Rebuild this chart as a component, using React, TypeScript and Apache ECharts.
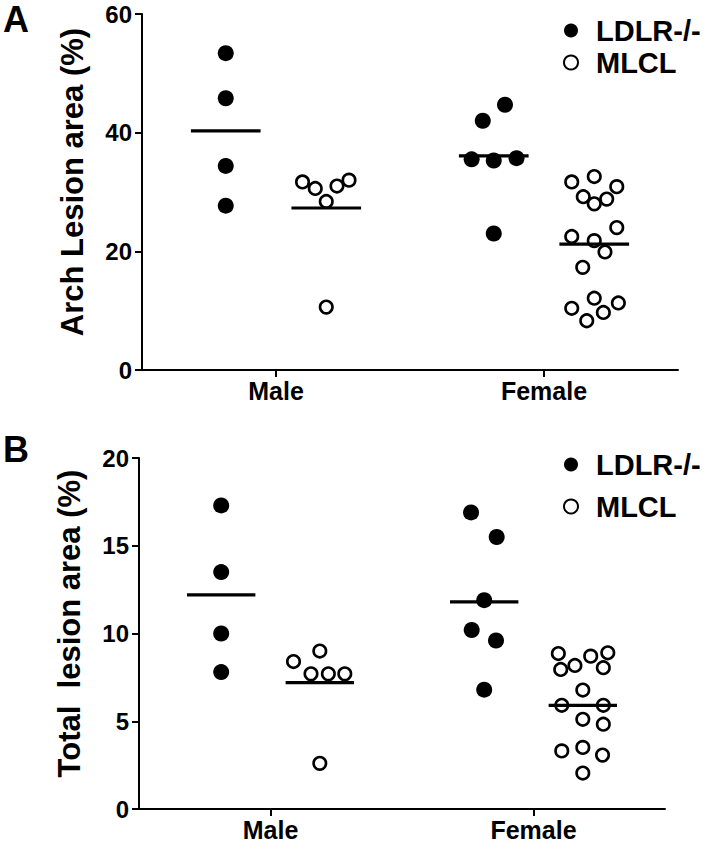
import React, { useEffect, useRef } from "react";
import * as echarts from "echarts";

// ---- Data ----
const categories = ["Male", "Female"];
const seriesNames = ["LDLR-/-", "MLCL"];
// group positions on the hidden value axis (Male LDLR, Male MLCL, Female LDLR, Female MLCL)
const groupPos = [0.625, 1.375, 2.625, 3.375];

// Panel A: Arch lesion area (%)
const archMaleLdlr = [53.4, 45.8, 34.4, 27.7];
const archMaleLdlrJitter = [0, 0, 0, 0];
const archMaleMlcl = [31.7, 30.6, 28.4, 31.0, 32.0, 10.6];
const archMaleMlclJitter = [-0.177, -0.082, 0, 0.08, 0.17, 0];
const archFemaleLdlr = [44.7, 42.0, 35.5, 35.3, 35.7, 23.0];
const archFemaleLdlrJitter = [0.084, -0.082, -0.165, 0, 0.17, 0];
const archFemaleMlcl = [31.7, 32.6, 30.9, 29.2, 28.0, 28.8, 22.5, 21.8, 24.0, 19.9, 17.3, 10.4, 12.1, 11.3, 9.7, 8.3];
const archFemaleMlclJitter = [-0.168, 0, 0.168, -0.082, 0, 0.093, -0.168, 0, 0.168, 0.08, -0.086, -0.168, 0, 0.18, 0.068, -0.056];
const archMeans = [40.3, 27.3, 36.1, 21.2];
const archTicks = { min: 0, max: 60, interval: 20 };

// Panel B: Total lesion area (%)
const totalMaleLdlr = [17.3, 13.5, 10.0, 7.8];
const totalMaleLdlrJitter = [0, 0, 0, 0];
const totalMaleMlcl = [8.4, 9.0, 7.7, 7.7, 7.7, 2.6];
const totalMaleMlclJitter = [-0.2, 0, -0.067, 0.065, 0.19, 0];
const totalFemaleLdlr = [16.9, 15.5, 11.9, 10.2, 9.6, 6.8];
const totalFemaleLdlrJitter = [-0.1, 0.095, 0, -0.095, 0.09, 0];
const totalFemaleMlcl = [8.86, 8.18, 8.71, 8.9, 7.95, 8.05, 6.78, 5.91, 5.91, 5.11, 4.83, 3.31, 3.51, 3.07, 2.05];
const totalFemaleMlclJitter = [-0.186, -0.06, 0.06, 0.19, -0.168, 0.156, 0, -0.16, 0.156, 0, 0.156, -0.16, 0, 0.15, 0];
const totalMeans = [12.2, 7.2, 11.8, 5.9];
const totalTicks = { min: 0, max: 20, interval: 5 };

const FONT = "'Liberation Sans', Arial, Helvetica, sans-serif";

function pts(center: number, vals: number[], jit: number[]) {
  return vals.map((v, i) => [center + jit[i], v]);
}

function buildOption() {
  const axisLineStyle = { color: "#000", width: 2 };
  const labelStyle = { color: "#000", fontFamily: FONT, fontWeight: "bold" as const, fontSize: 24 };

  const xCat = (gridIndex: number) => ({
    type: "category",
    gridIndex,
    data: categories,
    boundaryGap: true,
    axisLine: { show: true, lineStyle: axisLineStyle },
    axisTick: { show: true, alignWithLabel: true, length: 7, lineStyle: axisLineStyle },
    axisLabel: { ...labelStyle, fontSize: 25, margin: 8 },
    splitLine: { show: false },
  });
  const xVal = (gridIndex: number) => ({
    type: "value",
    gridIndex,
    min: 0,
    max: 4,
    show: false,
    splitLine: { show: false },
  });
  const yVal = (gridIndex: number, name: string, t: { min: number; max: number; interval: number }) => ({
    type: "value",
    gridIndex,
    min: t.min,
    max: t.max,
    interval: t.interval,
    name,
    nameLocation: "middle",
    nameGap: 54,
    nameTextStyle: { color: "#000", fontFamily: FONT, fontWeight: "bold", fontSize: 31, padding: [0, 0, 0, 20] },
    axisLine: { show: true, lineStyle: axisLineStyle },
    axisTick: { show: true, length: 7, lineStyle: axisLineStyle },
    axisLabel: { ...labelStyle, margin: 10 },
    splitLine: { show: false },
  });

  const filled = { color: "#000", opacity: 1 };
  const open = { color: "#fff", borderColor: "#000", borderWidth: 2.6, opacity: 1 };

  const meanSeries = (xAxisIndex: number, yAxisIndex: number, means: number[]) => ({
    type: "custom",
    name: "mean",
    xAxisIndex,
    yAxisIndex,
    z: 5,
    data: means.map((m, i) => [groupPos[i], m]),
    renderItem: (params: any, api: any) => {
      const x = api.value(0);
      const y = api.value(1);
      const p1 = api.coord([x - 0.26, y]);
      const p2 = api.coord([x + 0.26, y]);
      return {
        type: "line",
        shape: { x1: p1[0], y1: p1[1], x2: p2[0], y2: p2[1] },
        style: { stroke: "#000", lineWidth: 3.2 },
      };
    },
  });

  const legendCommon = {
    data: seriesNames,
    orient: "vertical",
    itemWidth: 40,
    itemHeight: 14,
    icon: "circle",
    textStyle: { color: "#000", fontFamily: FONT, fontWeight: "bold", fontSize: 29 },
    selectedMode: false,
  };

  return {
    animation: false,
    backgroundColor: "#fff",
    grid: [
      { left: 142, top: 14, width: 536, height: 356 },
      { left: 139, top: 458, width: 526, height: 351 },
    ],
    legend: [
      { ...legendCommon, left: 558, top: 11, itemGap: 3 },
      { ...legendCommon, left: 558, top: 445, itemGap: 13 },
    ],
    xAxis: [xCat(0), xVal(0), xCat(1), xVal(1)],
    yAxis: [yVal(0, "Arch Lesion area (%)", archTicks), yVal(1, "Total  lesion area (%)", totalTicks)],
    graphic: [
      { type: "text", left: 3, top: 1, style: { text: "A", fill: "#000", font: `bold 36px ${FONT}` } },
      { type: "text", left: 3, top: 431, style: { text: "B", fill: "#000", font: `bold 36px ${FONT}` } },
    ],
    series: [
      {
        type: "scatter",
        name: seriesNames[0],
        xAxisIndex: 1,
        yAxisIndex: 0,
        symbol: "circle",
        symbolSize: 16,
        itemStyle: filled,
        data: [
          ...pts(groupPos[0], archMaleLdlr, archMaleLdlrJitter),
          ...pts(groupPos[2], archFemaleLdlr, archFemaleLdlrJitter),
        ],
      },
      {
        type: "scatter",
        name: seriesNames[1],
        xAxisIndex: 1,
        yAxisIndex: 0,
        symbol: "circle",
        symbolSize: 12.5,
        itemStyle: open,
        data: [
          ...pts(groupPos[1], archMaleMlcl, archMaleMlclJitter),
          ...pts(groupPos[3], archFemaleMlcl, archFemaleMlclJitter),
        ],
      },
      meanSeries(1, 0, archMeans),
      {
        type: "scatter",
        name: seriesNames[0],
        xAxisIndex: 3,
        yAxisIndex: 1,
        symbol: "circle",
        symbolSize: 16,
        itemStyle: filled,
        data: [
          ...pts(groupPos[0], totalMaleLdlr, totalMaleLdlrJitter),
          ...pts(groupPos[2], totalFemaleLdlr, totalFemaleLdlrJitter),
        ],
      },
      {
        type: "scatter",
        name: seriesNames[1],
        xAxisIndex: 3,
        yAxisIndex: 1,
        symbol: "circle",
        symbolSize: 12.5,
        itemStyle: open,
        data: [
          ...pts(groupPos[1], totalMaleMlcl, totalMaleMlclJitter),
          ...pts(groupPos[3], totalFemaleMlcl, totalFemaleMlclJitter),
        ],
      },
      meanSeries(3, 1, totalMeans),
    ],
  };
}

export default function App() {
  const ref = useRef<HTMLDivElement>(null);
  useEffect(() => {
    if (!ref.current) return;
    const chart = echarts.init(ref.current, undefined, { renderer: "svg" });
    chart.setOption(buildOption() as any);
    return () => chart.dispose();
  }, []);
  return (
    <div
      ref={ref}
      style={{ position: "absolute", left: 0, top: 0, width: 705, height: 844, background: "#fff" }}
    />
  );
}
